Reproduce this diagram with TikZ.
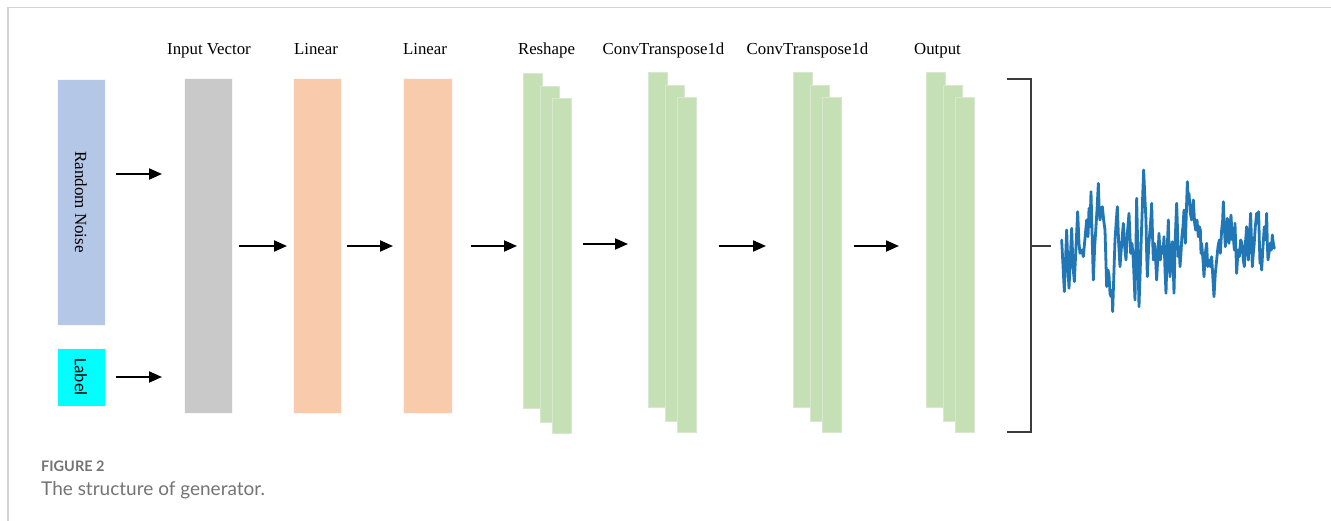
\documentclass[tikz,border=0pt]{standalone}
\usepackage{fontspec}
\setmainfont{Liberation Serif}
\newfontfamily\capfont{Lato}
\newfontfamily\calfont{Carlito}
\usetikzlibrary{arrows.meta}

\definecolor{noiseblue}{HTML}{B4C7E7}
\definecolor{labelcyan}{HTML}{00FFFF}
\definecolor{vecgray}{HTML}{C9C9C9}
\definecolor{linorange}{HTML}{F8CBAD}
\definecolor{convgreen}{HTML}{C5E0B4}
\definecolor{barline}{HTML}{D9E6D0}
\definecolor{framegray}{HTML}{D4D4D4}
\definecolor{captiongray}{HTML}{747474}
\definecolor{wavecol}{HTML}{2176B5}
\definecolor{brkcol}{HTML}{3C3C3C}

% one stack of three feature-map bars, #1 name, #2 left x, #3 top y
\newcommand\greenstack[3]{%
  \node[gbar, minimum width=19.5pt, minimum height=335pt] (#1a) at (#2,#3) {};
  \node[gbar, minimum width=18.5pt, minimum height=336pt] (#1b) at (#2+17.5,#3+13) {};
  \node[gbar, minimum width=19.5pt, minimum height=334.5pt] (#1c) at (#2+29,#3+25.5) {};
}

\begin{document}
\begin{tikzpicture}[x=1pt,y=-1pt,
  block/.style={inner sep=0pt, outer sep=0pt, anchor=north west, draw=white!70!black!10, line width=0.6pt},
  gbar/.style={inner sep=0pt, outer sep=0pt, anchor=north west, fill=convgreen, draw=barline, line width=0.8pt},
  title/.style={anchor=base, font=\fontsize{16.8}{20}\selectfont, inner sep=0pt},
  arr/.style={line width=2pt, -{Triangle[length=13pt,width=11pt]}},
  brk/.style={draw=brkcol, line width=1.5pt},
  wave/.style={draw=wavecol, line width=2.8pt, line join=round, line cap=round}]

\useasboundingbox (0,0) rectangle (1331,521);
\fill[white] (0,0) rectangle (1331,521);

% figure frame (top and left rules)
\draw[framegray, line width=1.6pt] (8,521) -- (8,7.5) -- (1331,7.5);

% inputs
\node[block, fill=noiseblue, minimum width=48pt, minimum height=246pt] (noise) at (57,79) {};
\node[rotate=-90, font=\fontsize{17}{20}\selectfont, inner sep=0pt] (noisetxt) at (noise.center) {Random Noise};
\node[block, fill=labelcyan, minimum width=48pt, minimum height=58pt] (label) at (57,348) {};
\node[rotate=-90, font=\calfont\fontsize{17.5}{20}\selectfont, inner sep=0pt] (labeltxt) at (label.center) {Label};

% dense layers
\node[block, fill=vecgray, minimum width=48pt, minimum height=335pt] (input) at (184,78) {};
\node[block, fill=linorange, minimum width=48pt, minimum height=335pt] (lin1) at (293,78) {};
\node[block, fill=linorange, minimum width=49pt, minimum height=335pt] (lin2) at (403,78) {};

% reshaped and upsampled feature maps
\greenstack{rs}{523}{73}
\greenstack{ca}{648}{72}
\greenstack{cb}{793}{72}
\greenstack{out}{926}{72}

% layer titles
\node[title] (tin)  at (209,55)   {Input Vector};
\node[title] (tl1)  at (316,55)   {Linear};
\node[title] (tl2)  at (425,55)   {Linear};
\node[title] (trs)  at (546.5,55) {Reshape};
\node[title] (tca)  at (663.5,55) {ConvTranspose1d};
\node[title] (tcb)  at (807.5,55) {ConvTranspose1d};
\node[title] (tout) at (937.5,55) {Output};

% data flow
\draw[arr, shorten <=11pt, shorten >=22pt] (noise.east |- 0,174) -- (input.west |- 0,174);
\draw[arr, shorten <=11pt, shorten >=22pt] (label.east |- 0,377) -- (input.west |- 0,377);
\draw[arr, shorten <=7pt,  shorten >=6pt]  (input.east |- 0,246) -- (lin1.west |- 0,246);
\draw[arr, shorten <=6pt,  shorten >=10pt] (lin1.east |- 0,246)  -- (lin2.west |- 0,246);
\draw[arr, shorten <=19pt, shorten >=6pt]  (lin2.east |- 0,246)  -- (rsa.west |- 0,246);
\draw[arr, shorten <=11pt, shorten >=20pt] (rsc.east |- 0,244)   -- (caa.west |- 0,244);
\draw[arr, shorten <=22pt, shorten >=27pt] (cac.east |- 0,246)   -- (cba.west |- 0,246);
\draw[arr, shorten <=12pt, shorten >=27pt] (cbc.east |- 0,246)   -- (outa.west |- 0,246);

% bracket collecting the output channels
\coordinate (btop) at (1007,79);
\coordinate (bbot) at (1007,432);
\coordinate (bmid) at (1031,246);
\coordinate (btip) at (1051,246);
\draw[brk] (btop) -- (btop -| bmid) -- (bbot -| bmid) -- (bbot);
\draw[brk] (bmid) -- (btip);

% generated signal
\begin{scope}[shift={(1040,160)}, x=0.3333pt, y=-0.3333pt]
\draw[wave] plot coordinates {
(65,240) (73,395) (80,210) (84,330) (87,385) (95,205) (99,320) (103,365)
(108,260) (113,155) (117,250) (120,280) (126,270) (130,290) (135,235)
(140,180) (144,230) (147,145) (150,200) (153,95) (157,250) (160,360)
(164,260) (167,215) (171,150) (175,70) (178,160) (180,180) (184,150)
(187,140) (191,180) (195,210) (200,380) (204,330) (207,345) (210,400)
(213,410) (216,390) (218,455) (222,330) (225,240) (229,180) (232,140)
(236,250) (240,320) (243,280) (245,250) (250,190) (254,260) (258,300)
(262,220) (267,160) (270,230) (272,280) (276,250) (280,300) (285,420)
(288,250) (290,115) (294,300) (297,440) (301,320) (305,200) (308,110)
(311,30) (315,120) (318,180) (320,280) (322,350) (326,260) (330,210)
(333,170) (335,130) (338,240) (340,300) (343,250) (345,260) (348,320)
(350,360) (354,280) (357,220) (361,300) (365,260) (369,280) (372,230)
(375,330) (378,400) (382,260) (385,180) (388,300) (390,350) (394,280)
(397,245) (400,330) (402,400) (406,230) (410,130) (413,220) (415,290)
(418,260) (420,320) (423,280) (426,225) (429,200) (432,150) (434,210)
(436,250) (439,160) (442,65) (445,120) (447,100) (451,160) (455,180)
(458,140) (460,120) (464,190) (467,210) (471,180) (475,230) (478,200)
(481,210) (483,280) (485,250) (489,300) (492,350) (496,280) (500,250)
(503,320) (507,300) (511,320) (515,290) (519,360) (522,410) (526,340)
(530,300) (534,260) (538,240) (541,280) (545,210) (548,180) (550,125)
(553,200) (556,260) (559,220) (562,175) (565,230) (567,250) (570,200)
(573,165) (577,240) (580,230) (583,270) (585,190) (588,280) (590,340)
(594,270) (598,290) (602,240) (606,250) (610,300) (613,320) (617,240)
(620,200) (623,270) (625,300) (629,220) (632,160) (635,260) (637,320)
(640,280) (642,260) (646,200) (650,160) (653,190) (656,155) (658,240)
(660,310) (663,270) (665,330) (669,260) (673,200) (677,240) (680,160)
(682,250) (684,300) (687,280) (690,250) (694,270) (697,225) (700,250)
(703,265) };
\end{scope}

% caption
\node[anchor=base west, inner sep=0pt, font=\capfont\bfseries\fontsize{14.5}{18}\selectfont, text=captiongray] (fignum) at (41,471) {FIGURE 2};
\node[anchor=base west, inner sep=0pt, font=\capfont\fontsize{19}{22}\selectfont, text=captiongray] (figcap) at (41,495) {The structure of generator.};
\end{tikzpicture}
\end{document}
